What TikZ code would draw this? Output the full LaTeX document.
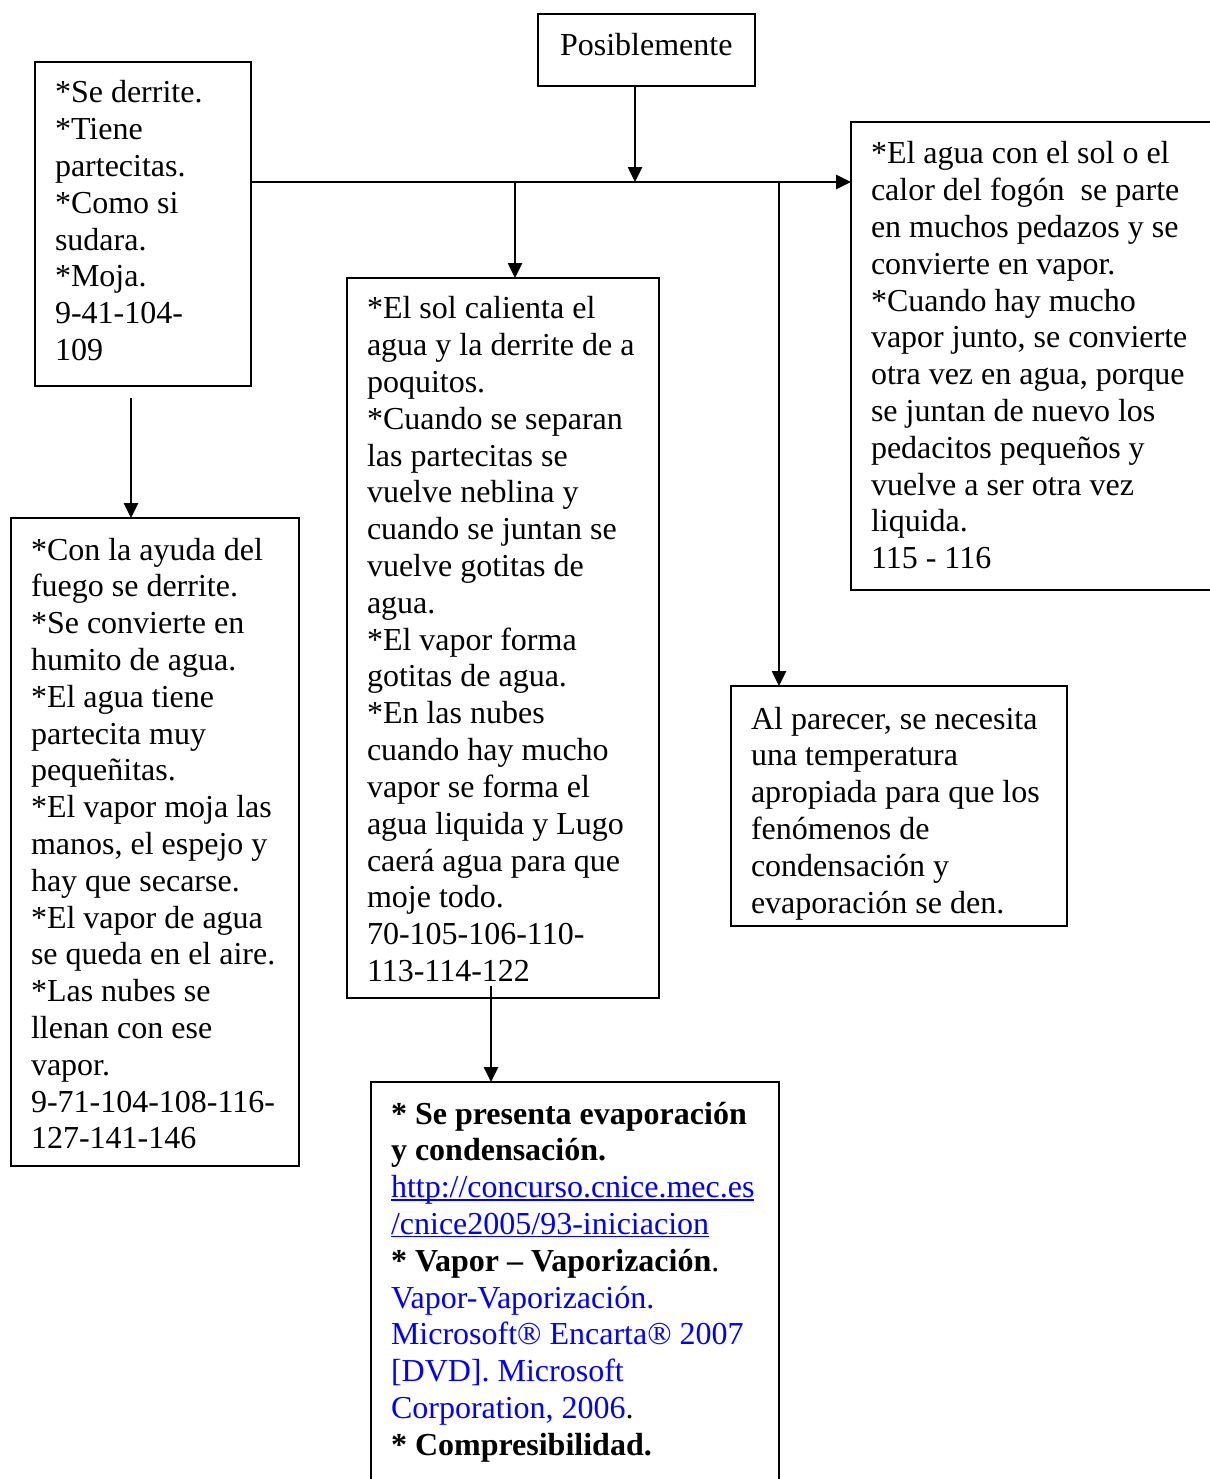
\documentclass[tikz,border=0pt]{standalone}
\usepackage{fontspec}
\setmainfont{Liberation Serif}
\usetikzlibrary{arrows.meta}
\definecolor{linkblue}{RGB}{0,0,255}
% blue hyperlink text, underlined close to the baseline
\newcommand\linkurl[1]{{\leavevmode\color{linkblue}\setbox0\hbox{#1}\rlap{\rule[-1.1pt]{\wd0}{0.55pt}}\box0}}
\begin{document}
\begin{tikzpicture}[x=0.375pt, y=-0.375pt,
  every node/.style={font=\fontsize{12}{13.8}\selectfont},
  frame/.style 2 args={draw, line width=0.75pt, inner sep=0pt, outer sep=0pt,
    anchor=north west, minimum width=#1*0.375pt, minimum height=#2*0.375pt},
  body/.style={anchor=base west, inner sep=0pt, outer sep=0pt,
    text width=160pt, align=flush left},
  arr/.style={line width=0.75pt, -{Triangle[length=5.6pt,width=5.3pt]}}]
\fill[white] (0,0) rectangle (1210,1479);
\useasboundingbox (0,0) rectangle (1210,1479);
\clip (0,0) rectangle (1210,1479);

% frames
\node[frame={217}{72}]  (pos)    at (538,14)   {};
\node[frame={216}{324}] (left1)  at (35,62)    {};
\node[frame={288}{648}] (left2)  at (11,518)   {};
\node[frame={312}{720}] (mid)    at (347,278)  {};
\node[frame={370}{468}] (right1) at (851,122)  {};
\node[frame={336}{240}] (note)   at (731,686)  {};
\node[frame={408}{420}] (refs)   at (371,1082) {};

% texts
\node[body] (tpos) at (560,56) {Posiblemente};

\node[body] (tleft1) at (55,103) {*Se derrite.\\
{*}Tiene\\
partecitas.\\
{*}Como si\\
sudara.\\
{*}Moja.\\
9-41-104-\\
109};

\node[body] (tleft2) at (31,560) {*Con la ayuda del\\
fuego se derrite.\\
{*}Se convierte en\\
humito de agua.\\
{*}El agua tiene\\
partecita muy\\
pequeñitas.\\
{*}El vapor moja las\\
manos, el espejo y\\
hay que secarse.\\
{*}El vapor de agua\\
se queda en el aire.\\
{*}Las nubes se\\
llenan con ese\\
vapor.\\
9-71-104-108-116-\\
127-141-146};

\node[body] (tmid) at (367,319) {*El sol calienta el\\
agua y la derrite de a\\
poquitos.\\
{*}Cuando se separan\\
las partecitas se\\
vuelve neblina y\\
cuando se juntan se\\
vuelve gotitas de\\
agua.\\
{*}El vapor forma\\
gotitas de agua.\\
{*}En las nubes\\
cuando hay mucho\\
vapor se forma el\\
agua liquida y Lugo\\
caerá agua para que\\
moje todo.\\
70-105-106-110-\\
113-114-122};

\node[body] (tright1) at (871,164) {*El agua con el sol o el\\
calor del fogón \ se parte\\
en muchos pedazos y se\\
convierte en vapor.\\
{*}Cuando hay mucho\\
vapor junto, se convierte\\
otra vez en agua, porque\\
se juntan de nuevo los\\
pedacitos pequeños y\\
vuelve a ser otra vez\\
liquida.\\
115 - 116};

\node[body] (tnote) at (751,729) {Al parecer, se necesita\\
una temperatura\\
apropiada para que los\\
fenómenos de\\
condensación y\\
evaporación se den.};

\node[body] (trefs) at (391,1124) {{\bfseries * Se presenta evaporación}\\
{\bfseries y condensación.}\\
\linkurl{http://concurso.cnice.mec.es}\\
\linkurl{/cnice2005/93-iniciacion}\\
{\bfseries * Vapor – Vaporización}.\\
{\color{linkblue}Vapor-Vaporización.}\\
{\color{linkblue}Microsoft® Encarta® 2007}\\
{\color{linkblue}[DVD]. Microsoft}\\
{\color{linkblue}Corporation, 2006}.\\
{\bfseries * Compresibilidad.}};

% connectors
\coordinate (hub) at (635,182);
\coordinate (t1)  at (515,182);
\coordinate (t2)  at (779,182);
\coordinate (s1)  at (131,398);
\coordinate (s2)  at (491,986);

\draw[arr] (pos.south -| hub) -- (hub);
\draw[arr] (left1.east |- hub) -- (right1.west |- hub);
\draw[arr] (t1) -- (t1 |- mid.north);
\draw[arr] (t2) -- (t2 |- note.north);
\draw[arr] (s1) -- (s1 |- left2.north);
\draw[arr] (s2) -- (s2 |- refs.north);
\end{tikzpicture}
\end{document}
